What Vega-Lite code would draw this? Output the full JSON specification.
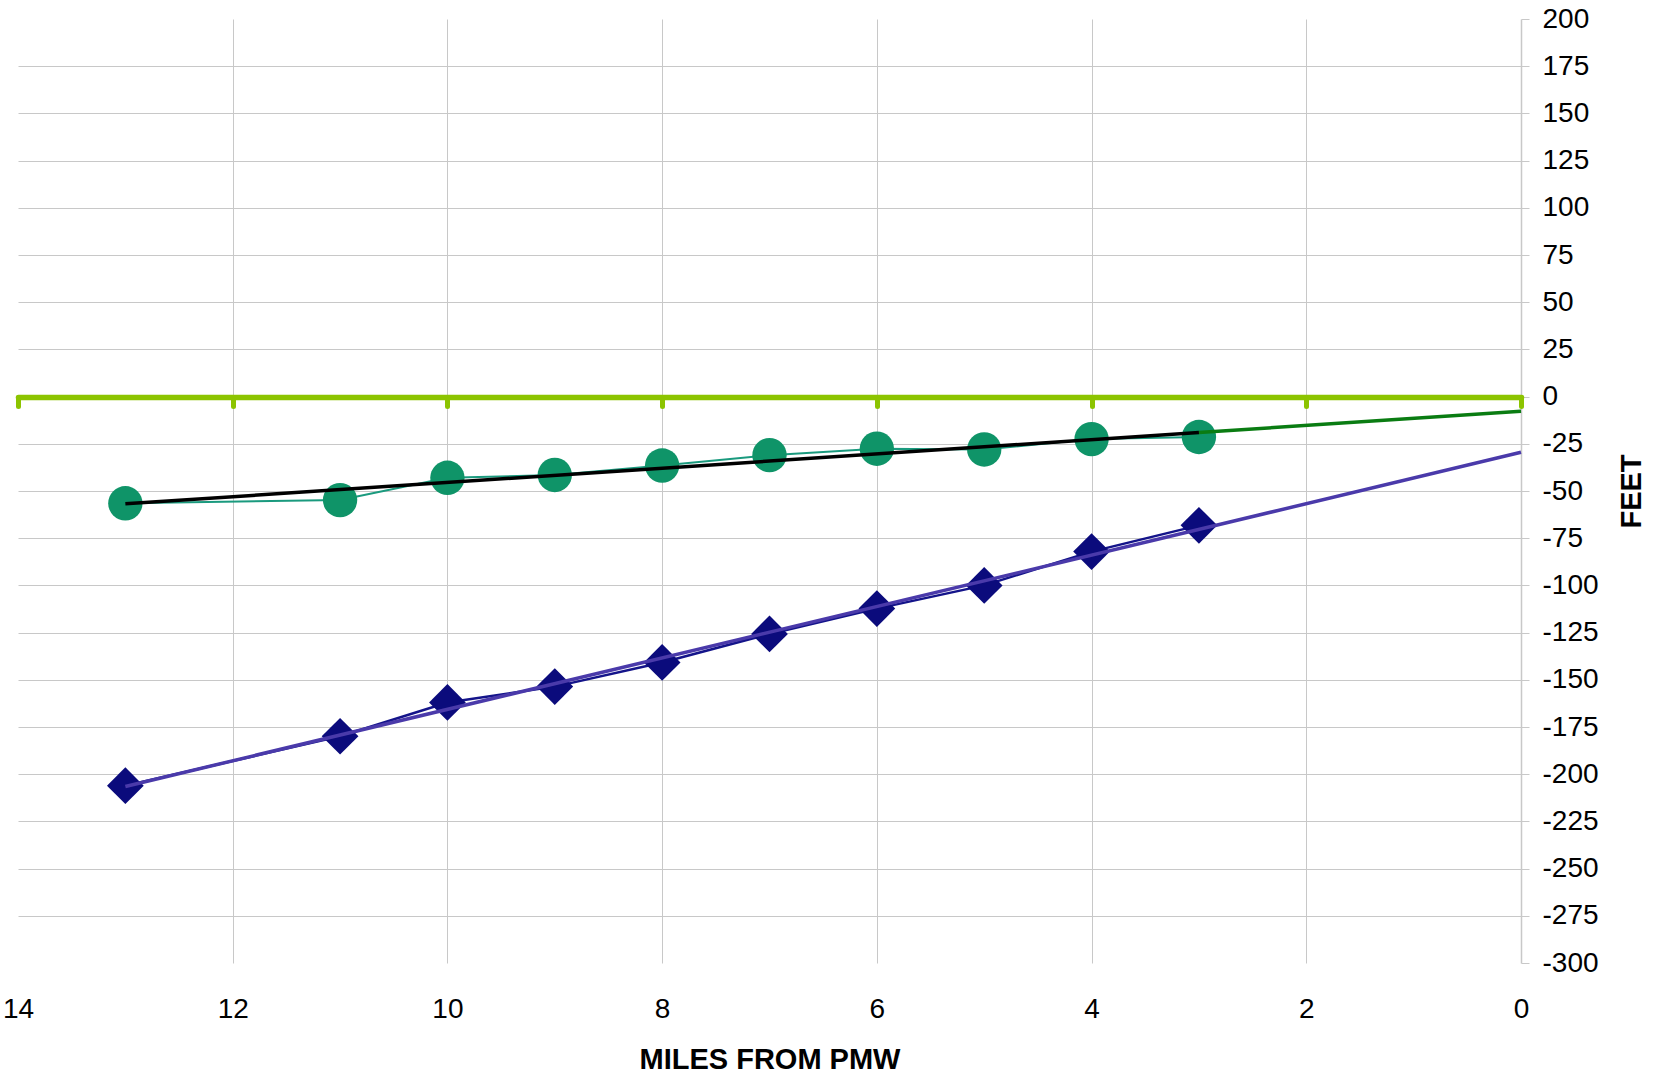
{
  "$schema": "https://vega.github.io/schema/vega-lite/v6.json",
  "width": 1503,
  "height": 944,
  "autosize": {"type": "none"},
  "padding": {"left": 18, "top": 19, "right": 135, "bottom": 113},
  "background": "white",
  "config": {"view": {"stroke": null}, "font": "Liberation Sans"},
  "data": {"values": [
    {"s": "circles", "mile": 13, "feet": -56.5},
    {"s": "circles", "mile": 11, "feet": -54.8},
    {"s": "circles", "mile": 10, "feet": -43.0},
    {"s": "circles", "mile": 9, "feet": -41.5},
    {"s": "circles", "mile": 8, "feet": -36.5},
    {"s": "circles", "mile": 7, "feet": -31.0},
    {"s": "circles", "mile": 6, "feet": -27.6},
    {"s": "circles", "mile": 5, "feet": -28.0},
    {"s": "circles", "mile": 4, "feet": -22.5},
    {"s": "circles", "mile": 3, "feet": -21.4},
    {"s": "circleTrend", "mile": 13, "feet": -56.8},
    {"s": "circleTrend", "mile": 3, "feet": -19.0},
    {"s": "circleExt", "mile": 3, "feet": -19.0},
    {"s": "circleExt", "mile": 0, "feet": -7.7},
    {"s": "diamonds", "mile": 13, "feet": -206.1},
    {"s": "diamonds", "mile": 11, "feet": -179.9},
    {"s": "diamonds", "mile": 10, "feet": -162.0},
    {"s": "diamonds", "mile": 9, "feet": -153.6},
    {"s": "diamonds", "mile": 8, "feet": -140.8},
    {"s": "diamonds", "mile": 7, "feet": -125.7},
    {"s": "diamonds", "mile": 6, "feet": -112.3},
    {"s": "diamonds", "mile": 5, "feet": -100.0},
    {"s": "diamonds", "mile": 4, "feet": -82.1},
    {"s": "diamonds", "mile": 3, "feet": -68.2},
    {"s": "diamondTrend", "mile": 13, "feet": -206.5},
    {"s": "diamondTrend", "mile": 0, "feet": -29.5}
  ]},
  "encoding": {
    "y": {
      "field": "feet", "type": "quantitative",
      "scale": {"domain": [-300, 200], "nice": false, "zero": false},
      "axis": {
        "orient": "right",
        "values": [-300, -275, -250, -225, -200, -175, -150, -125, -100, -75, -50, -25, 0, 25, 50, 75, 100, 125, 150, 175, 200],
        "labelExpr": "'' + datum.value",
        "grid": true,
        "gridColor": "#c8c8c8",
        "gridWidth": 1,
        "gridOpacity": {"condition": {"test": "datum.value == 200 || datum.value == -300 || datum.value == 0", "value": 0}, "value": 1},
        "domainColor": "#c8c8c8",
        "domainWidth": 1.5,
        "tickColor": "#c8c8c8",
        "tickSize": 8,
        "labelFontSize": 28,
        "labelColor": "#000000",
        "labelPadding": 13,
        "labelFont": "Liberation Sans",
        "labelFlush": false,
        "labelOverlap": false,
        "title": "FEET",
        "titleFont": "Liberation Sans",
        "titleFontSize": 29,
        "titleFontWeight": "bold",
        "titleColor": "#000000",
        "titleAngle": 270,
        "titlePadding": 48
      }
    }
  },
  "resolve": {"axis": {"x": "independent"}},
  "layer": [
    {
      "transform": [{"filter": "datum.s == 'circles'"}],
      "mark": {"type": "line", "color": "#1a9a7e", "strokeWidth": 2},
      "encoding": {
        "x": {
          "field": "mile", "type": "quantitative",
          "scale": {"domain": [0, 14], "reverse": true, "nice": false, "zero": false},
          "axis": {
            "orient": "bottom",
            "values": [0, 2, 4, 6, 8, 10, 12, 14],
            "grid": true,
            "gridColor": "#c8c8c8",
            "gridWidth": 1,
            "gridOpacity": {"condition": {"test": "datum.value == 0 || datum.value == 14", "value": 0}, "value": 1},
            "domain": false,
            "ticks": false,
            "labelFontSize": 28,
            "labelColor": "#000000",
            "labelFont": "Liberation Sans",
            "labelPadding": 32,
            "labelFlush": false,
            "labelOverlap": false,
            "title": "MILES FROM PMW",
            "titleFont": "Liberation Sans",
            "titleFontSize": 29,
            "titleFontWeight": "bold",
            "titleColor": "#000000",
            "titlePadding": 22
          }
        }
      }
    },
    {
      "transform": [{"filter": "datum.s == 'diamonds'"}],
      "mark": {"type": "line", "color": "#14148a", "strokeWidth": 2.5},
      "encoding": {"x": {"field": "mile", "type": "quantitative", "axis": null}}
    },
    {
      "transform": [{"filter": "datum.s == 'circles'"}],
      "mark": {"type": "point", "shape": "circle", "filled": true, "size": 1180, "color": "#0f9468", "opacity": 1},
      "encoding": {"x": {"field": "mile", "type": "quantitative", "axis": null}}
    },
    {
      "transform": [{"filter": "datum.s == 'diamonds'"}],
      "mark": {"type": "point", "shape": "diamond", "filled": true, "size": 1350, "color": "#0b0b7c", "opacity": 1},
      "encoding": {"x": {"field": "mile", "type": "quantitative", "axis": null}}
    },
    {
      "transform": [{"filter": "datum.s == 'circleExt'"}],
      "mark": {"type": "line", "color": "#0a7c12", "strokeWidth": 3.5},
      "encoding": {"x": {"field": "mile", "type": "quantitative", "axis": null}}
    },
    {
      "transform": [{"filter": "datum.s == 'circleTrend'"}],
      "mark": {"type": "line", "color": "#000000", "strokeWidth": 3.5},
      "encoding": {
        "x": {
          "field": "mile", "type": "quantitative",
          "axis": {
            "orient": "bottom",
            "offset": -566,
            "values": [0, 2, 4, 6, 8, 10, 12, 14],
            "grid": false,
            "labels": false,
            "title": null,
            "domain": true,
            "domainColor": "#8cc400",
            "domainWidth": 5.5,
            "domainCap": "round",
            "tickColor": "#8cc400",
            "tickWidth": 5,
            "tickSize": 9,
            "tickCap": "round",
            "zindex": 1
          }
        }
      }
    },
    {
      "transform": [{"filter": "datum.s == 'diamondTrend'"}],
      "mark": {"type": "line", "color": "#4a3aaa", "strokeWidth": 3.5},
      "encoding": {"x": {"field": "mile", "type": "quantitative", "axis": null}}
    }
  ]
}
